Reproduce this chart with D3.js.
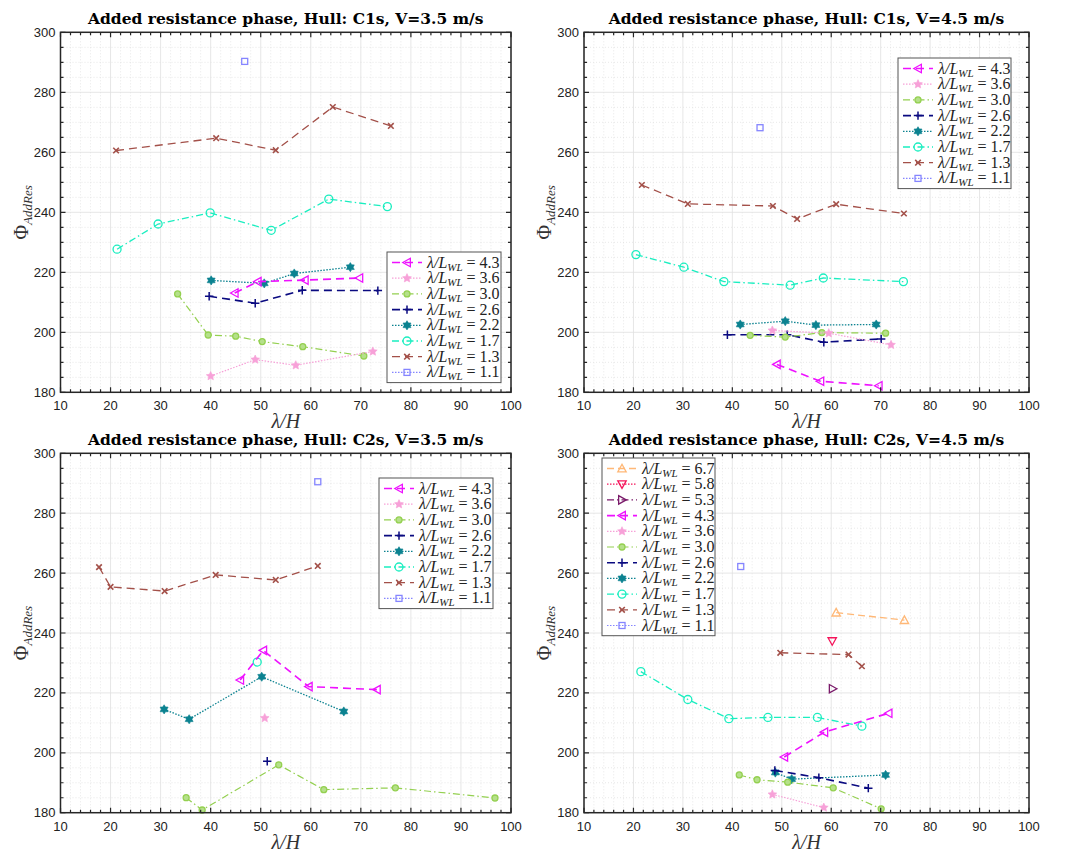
<!DOCTYPE html>
<html>
<head>
  <title>Added resistance phase</title>
  <script src="https://d3js.org/d3.v7.min.js"></script>
  <style>
    body { margin: 0; background: #fff; }
    .tick-label { font-family: "Liberation Sans", Arial, sans-serif; font-size: 13px; fill: #222; }
    .title { font-family: "DejaVu Serif", serif; font-weight: bold; font-size: 15.5px; fill: #000; }
    .axis-title { font-family: "Liberation Serif", serif; font-style: italic; font-size: 20px; fill: #333; }
    .legend-text { font-family: "Liberation Serif", serif; font-size: 16px; fill: #222; }
  </style>
</head>
<body>
  <svg id="fig" width="1067" height="852"></svg>

  <script>
    // tick values
    const xTicks = [10, 20, 30, 40, 50, 60, 70, 80, 90, 100];
    const yTicks = [180, 200, 220, 240, 260, 280, 300];

    // series per panel: lambda/L_WL ratio and [lambda/H, phase] points
    const c1sV35 = [
      { ratio: "4.3", pts: [[44.8, 213.1], [49.4, 216.9], [58.8, 217.4], [69.7, 218.1]] },
      { ratio: "3.6", pts: [[40.0, 185.4], [48.9, 190.9], [57.0, 189.0], [72.4, 193.6]] },
      { ratio: "3.0", pts: [[33.4, 212.8], [39.5, 199.1], [45.0, 198.7], [50.3, 196.9], [58.4, 195.2], [70.6, 192.1]] },
      { ratio: "2.6", pts: [[39.7, 212.0], [48.9, 209.7], [58.3, 214.0], [73.4, 213.9]] },
      { ratio: "2.2", pts: [[40.1, 217.3], [50.7, 216.3], [56.7, 219.6], [67.9, 221.7]] },
      { ratio: "1.7", pts: [[21.3, 227.7], [29.5, 236.1], [39.9, 239.8], [52.1, 234.0], [63.6, 244.4], [75.3, 241.9]] },
      { ratio: "1.3", pts: [[21.1, 260.6], [41.1, 264.7], [53.0, 260.7], [64.4, 275.1], [76.0, 268.8]] },
      { ratio: "1.1", pts: [[46.8, 290.3]] }
    ];

    const c1sV45 = [
      { ratio: "4.3", pts: [[49.0, 189.3], [57.8, 183.7], [69.6, 182.2]] },
      { ratio: "3.6", pts: [[48.1, 200.6], [59.5, 199.7], [72.1, 195.8]] },
      { ratio: "3.0", pts: [[43.6, 199.0], [50.7, 198.4], [58.1, 199.9], [71.0, 199.7]] },
      { ratio: "2.6", pts: [[39.0, 199.2], [51.1, 199.2], [58.5, 196.7], [70.1, 197.8]] },
      { ratio: "2.2", pts: [[41.6, 202.6], [50.7, 203.7], [56.9, 202.4], [69.1, 202.6]] },
      { ratio: "1.7", pts: [[20.5, 225.9], [30.2, 221.7], [38.3, 216.9], [51.7, 215.7], [58.4, 218.1], [74.6, 216.9]] },
      { ratio: "1.3", pts: [[21.7, 249.1], [31.0, 242.8], [48.2, 242.1], [53.1, 237.8], [61.0, 242.7], [74.7, 239.6]] },
      { ratio: "1.1", pts: [[45.6, 268.2]] }
    ];

    const c2sV35 = [
      { ratio: "4.3", pts: [[45.9, 224.3], [50.5, 234.2], [59.6, 222.1], [73.2, 221.1]] },
      { ratio: "3.6", pts: [[50.8, 211.6]] },
      { ratio: "3.0", pts: [[35.1, 185.0], [38.3, 180.9], [53.6, 196.0], [62.6, 187.7], [76.9, 188.3], [96.8, 184.9]] },
      { ratio: "2.6", pts: [[51.3, 197.2]] },
      { ratio: "2.2", pts: [[30.7, 214.5], [35.7, 211.2], [50.2, 225.4], [66.6, 213.8]] },
      { ratio: "1.7", pts: [[49.3, 230.3]] },
      { ratio: "1.3", pts: [[17.7, 262.0], [20.0, 255.4], [30.8, 254.0], [41.0, 259.4], [53.0, 257.7], [61.4, 262.4]] },
      { ratio: "1.1", pts: [[61.4, 290.5]] }
    ];

    const c2sV45 = [
      { ratio: "6.7", pts: [[61.0, 246.8], [74.8, 244.3]] },
      { ratio: "5.8", pts: [[60.2, 237.3]] },
      { ratio: "5.3", pts: [[60.3, 221.4]] },
      { ratio: "4.3", pts: [[50.5, 198.6], [58.6, 206.9], [71.6, 213.2]] },
      { ratio: "3.6", pts: [[48.1, 186.1], [58.5, 181.7]] },
      { ratio: "3.0", pts: [[41.4, 192.6], [45.0, 191.0], [51.2, 190.2], [60.4, 188.3], [70.1, 181.3]] },
      { ratio: "2.6", pts: [[48.6, 194.1], [57.5, 191.7], [67.5, 188.2]] },
      { ratio: "2.2", pts: [[48.7, 193.4], [52.0, 191.2], [71.0, 192.6]] },
      { ratio: "1.7", pts: [[21.5, 227.1], [31.0, 217.8], [39.3, 211.4], [47.2, 211.8], [57.2, 211.8], [66.2, 208.9]] },
      { ratio: "1.3", pts: [[49.7, 233.4], [63.5, 232.8], [66.2, 228.9]] },
      { ratio: "1.1", pts: [[41.7, 262.2]] }
    ];

    // line / marker style per ratio
    const styles = {
      "6.7": { color: "#ffb877", dash: "7,4", marker: "triUp", width: 1.3 },
      "5.8": { color: "#f5145a", dash: "1.5,1.5", marker: "triDown", width: 1.3 },
      "5.3": { color: "#7a1a6a", dash: "7,3,1.5,3", marker: "triRight", width: 1.3 },
      "4.3": { color: "#ee11ff", dash: "8,5", marker: "triLeft", width: 1.6 },
      "3.6": { color: "#f7a1d8", dash: "1.5,1.5", marker: "pentagram", width: 1.2 },
      "3.0": { color: "#94d050", dash: "7,3,1.5,3", marker: "dot", width: 1.2 },
      "2.6": { color: "#0a0a80", dash: "8,5", marker: "plus", width: 1.6 },
      "2.2": { color: "#0b8290", dash: "1.5,1.5", marker: "hexagram", width: 1.3 },
      "1.7": { color: "#1aeec0", dash: "7,3,1.5,3", marker: "circle", width: 1.3 },
      "1.3": { color: "#a35049", dash: "8,5", marker: "x", width: 1.3 },
      "1.1": { color: "#8585ff", dash: "1.5,1.5", marker: "square", width: 1.2 }
    };

    const panels = [
      { title: "Added resistance phase, Hull: C1s, V=3.5 m/s", data: c1sV35, L: 60.5, R: 511, T: 32.3, B: 392.3, leg: [387, 252] },
      { title: "Added resistance phase, Hull: C1s, V=4.5 m/s", data: c1sV45, L: 584, R: 1029, T: 32.3, B: 392.3, leg: [898, 58] },
      { title: "Added resistance phase, Hull: C2s, V=3.5 m/s", data: c2sV35, L: 60.5, R: 511, T: 453.3, B: 812.7, leg: [379, 478] },
      { title: "Added resistance phase, Hull: C2s, V=4.5 m/s", data: c2sV45, L: 584, R: 1029, T: 453.3, B: 812.7, leg: [602, 458] }
    ];

    const svg = d3.select("#fig");

    function starPath(n, ro, ri) {
      const p = [];
      for (let i = 0; i < 2 * n; i++) {
        const r = i % 2 ? ri : ro;
        const a = -Math.PI / 2 + i * Math.PI / n;
        p.push([r * Math.cos(a), r * Math.sin(a)]);
      }
      return "M" + p.map(d => d[0].toFixed(2) + "," + d[1].toFixed(2)).join("L") + "Z";
    }

    function drawMarker(g, type, color, x, y) {
      const m = g.append("g").attr("transform", `translate(${x},${y})`);
      const s = 4.2;
      if (type === "circle") {
        m.append("circle").attr("r", 4).attr("fill", "none").attr("stroke", color).attr("stroke-width", 1.3);
      } else if (type === "dot") {
        m.append("circle").attr("r", 3).attr("fill", "#b5e08a").attr("stroke", color).attr("stroke-width", 1.3);
      } else if (type === "square") {
        m.append("rect").attr("x", -3).attr("y", -3).attr("width", 6).attr("height", 6)
          .attr("fill", "none").attr("stroke", color).attr("stroke-width", 1.3);
      } else if (type === "plus") {
        m.append("path").attr("d", `M${-s},0H${s}M0,${-s}V${s}`).attr("stroke", color).attr("stroke-width", 1.5);
      } else if (type === "x") {
        const k = 2.8;
        m.append("path").attr("d", `M${-k},${-k}L${k},${k}M${-k},${k}L${k},${-k}`).attr("stroke", color).attr("stroke-width", 1.6);
      } else if (type === "hexagram") {
        m.append("path").attr("d", starPath(6, 4.6, 2.8)).attr("fill", color).attr("stroke", color).attr("stroke-width", 0.6);
      } else if (type === "pentagram") {
        m.append("path").attr("d", starPath(5, 4.6, 2.2)).attr("fill", color).attr("stroke", color).attr("stroke-width", 0.6);
      } else {
        let d;
        if (type === "triLeft") d = `M${-s},0L${s * 0.8},${-s}L${s * 0.8},${s}Z`;
        if (type === "triRight") d = `M${s},0L${-s * 0.8},${-s}L${-s * 0.8},${s}Z`;
        if (type === "triUp") d = `M0,${-s}L${s},${s * 0.8}L${-s},${s * 0.8}Z`;
        if (type === "triDown") d = `M0,${s}L${s},${-s * 0.8}L${-s},${-s * 0.8}Z`;
        m.append("path").attr("d", d).attr("fill", "none").attr("stroke", color).attr("stroke-width", 1.3);
      }
    }

    panels.forEach((p, pi) => {
      const x = d3.scaleLinear().domain([10, 100]).range([p.L, p.R]);
      const y = d3.scaleLinear().domain([180, 300]).range([p.B, p.T]);
      const g = svg.append("g");

      // minor grid (dotted)
      const xMinor = d3.range(10, 100.1, 2).filter(v => v % 10 !== 0);
      const yMinor = d3.range(180, 300.1, 5).filter(v => v % 20 !== 0);
      g.selectAll(null).data(xMinor).join("line")
        .attr("x1", d => x(d)).attr("x2", d => x(d)).attr("y1", p.T).attr("y2", p.B)
        .attr("stroke", "#d8d8d8").attr("stroke-width", 0.6).attr("stroke-dasharray", "1,2");
      g.selectAll(null).data(yMinor).join("line")
        .attr("y1", d => y(d)).attr("y2", d => y(d)).attr("x1", p.L).attr("x2", p.R)
        .attr("stroke", "#d8d8d8").attr("stroke-width", 0.6).attr("stroke-dasharray", "1,2");
      // major grid
      g.selectAll(null).data(xTicks).join("line")
        .attr("x1", d => x(d)).attr("x2", d => x(d)).attr("y1", p.T).attr("y2", p.B)
        .attr("stroke", "#e0e0e0").attr("stroke-width", 0.8);
      g.selectAll(null).data(yTicks).join("line")
        .attr("y1", d => y(d)).attr("y2", d => y(d)).attr("x1", p.L).attr("x2", p.R)
        .attr("stroke", "#e0e0e0").attr("stroke-width", 0.8);

      // series lines and markers
      p.data.slice().reverse().forEach(s => {
        const st = styles[s.ratio];
        if (s.pts.length > 1) {
          g.append("path")
            .attr("d", d3.line().x(d => x(d[0])).y(d => y(d[1]))(s.pts))
            .attr("fill", "none").attr("stroke", st.color)
            .attr("stroke-width", st.width).attr("stroke-dasharray", st.dash);
        }
        s.pts.forEach(d => drawMarker(g, st.marker, st.color, x(d[0]), y(d[1])));
      });

      // axes frame with inward ticks on all sides
      const ax = svg.append("g");
      const tickCol = "#262626";
      const ticksX = d3.range(10, 100.1, 2);
      const ticksY = d3.range(180, 300.1, 5);
      ax.selectAll(null).data(ticksX).join("path")
        .attr("d", d => {
          const len = d % 10 === 0 ? 5 : 3;
          return `M${x(d)},${p.B}v${-len}M${x(d)},${p.T}v${len}`;
        })
        .attr("stroke", tickCol).attr("stroke-width", 1.2);
      ax.selectAll(null).data(ticksY).join("path")
        .attr("d", d => {
          const len = d % 20 === 0 ? 5 : 3;
          return `M${p.L},${y(d)}h${len}M${p.R},${y(d)}h${-len}`;
        })
        .attr("stroke", tickCol).attr("stroke-width", 1.2);
      ax.append("rect").attr("x", p.L).attr("y", p.T).attr("width", p.R - p.L).attr("height", p.B - p.T)
        .attr("fill", "none").attr("stroke", tickCol).attr("stroke-width", 1.5);

      // tick labels
      ax.selectAll(null).data(xTicks).join("text").attr("class", "tick-label")
        .attr("x", d => x(d)).attr("y", p.B + 18).attr("text-anchor", "middle").text(d => d);
      ax.selectAll(null).data(yTicks).join("text").attr("class", "tick-label")
        .attr("x", p.L - 5).attr("y", d => y(d) + 4.5).attr("text-anchor", "end").text(d => d);

      // titles
      ax.append("text").attr("class", "title")
        .attr("x", (p.L + p.R) / 2).attr("y", p.T - 8).attr("text-anchor", "middle").text(p.title);
      ax.append("text").attr("class", "axis-title")
        .attr("x", (p.L + p.R) / 2).attr("y", p.B + 36).attr("text-anchor", "middle").text("λ/H");
      const yl = ax.append("text").attr("class", "axis-title")
        .attr("transform", `translate(${p.L - 33},${(p.T + p.B) / 2}) rotate(-90)`)
        .attr("text-anchor", "middle");
      yl.append("tspan").attr("font-style", "normal").text("Φ");
      yl.append("tspan").attr("font-size", "13px").attr("dy", 4).text("AddRes");

      // legend
      const rowH = 15.7;
      const lw = p.L < 100 ? 114 : 113;
      const lg = svg.append("g").attr("transform", `translate(${p.leg[0]},${p.leg[1]})`);
      lg.append("rect").attr("width", lw).attr("height", p.data.length * rowH + 5)
        .attr("fill", "#fff").attr("stroke", "#555").attr("stroke-width", 1);
      p.data.forEach((s, i) => {
        const st = styles[s.ratio];
        const cy = 10.5 + i * rowH;
        lg.append("line").attr("x1", 5).attr("x2", 35).attr("y1", cy).attr("y2", cy)
          .attr("stroke", st.color).attr("stroke-width", st.width).attr("stroke-dasharray", st.dash);
        drawMarker(lg, st.marker, st.color, 20, cy);
        const t = lg.append("text").attr("class", "legend-text").attr("x", 40).attr("y", cy + 5);
        t.append("tspan").attr("font-style", "italic").text("λ/L");
        t.append("tspan").attr("font-style", "italic").attr("font-size", "11px").attr("dy", 3).text("WL");
        t.append("tspan").attr("dy", -3).text(" = " + s.ratio);
      });
    });
  </script>
</body>
</html>
